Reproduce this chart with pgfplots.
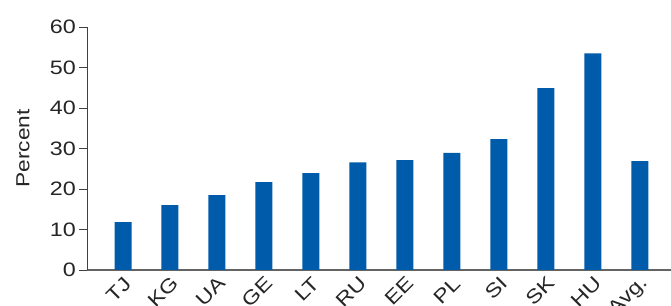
\documentclass[border=0pt]{standalone}
\usepackage{pgfplots}
\pgfplotsset{compat=1.18}
\usepackage{fontspec}
\setmainfont[FakeStretch=1.2]{Liberation Sans}
\definecolor{barblue}{RGB}{0,91,170}
\definecolor{axgray}{RGB}{100,100,100}
\begin{document}
\begin{tikzpicture}
\begin{axis}[
  scale only axis,
  width=584bp, height=243bp,
  ymin=0, ymax=60, ytick={0,10,...,60},
  xmin=-0.766, xmax=11.66,
  xtick={0,...,11},
  xticklabels={TJ,KG,UA,GE,LT,RU,EE,PL,SI,SK,HU,Avg.},
  axis x line*=bottom, axis y line*=left,
  axis line style={axgray, line width=0.8bp},
  x axis line style={-, line width=1.6bp, color=axgray},
  y axis line style={-, color=black!75},
  major tick length=8bp,
  ytick style={black!75, line width=0.8bp},
  xtick style={draw=none},
  tick align=outside,
  ticklabel style={font=\fontsize{19.5}{19.5}\selectfont, text=black!85},
  /pgf/number format/assume math mode=true,
  xticklabel style={rotate=45, anchor=east, inner sep=1bp, yshift=-5bp, xshift=3bp},
  yticklabel style={inner sep=3bp},
  ylabel={Percent},
  every axis y label/.style={at={(ticklabel cs:0.5,15bp)}, rotate=90, anchor=south,
     font=\fontsize{19}{19}\selectfont, text=black!85, inner sep=2bp},
  enlargelimits=false,
  clip=false,
]
\addplot[ybar, bar width=17bp, fill=barblue, draw=none] coordinates {
(0,11.8) (1,16.0) (2,18.5) (3,21.7) (4,23.9) (5,26.6) (6,27.1) (7,28.9) (8,32.3) (9,44.9) (10,53.5) (11,26.9)
};
\end{axis}
\pgfresetboundingbox
\path ([shift={(-87bp,-36bp)}]current axis.south west) rectangle ([shift={(0bp,27bp)}]current axis.north east);
\end{tikzpicture}
\end{document}
